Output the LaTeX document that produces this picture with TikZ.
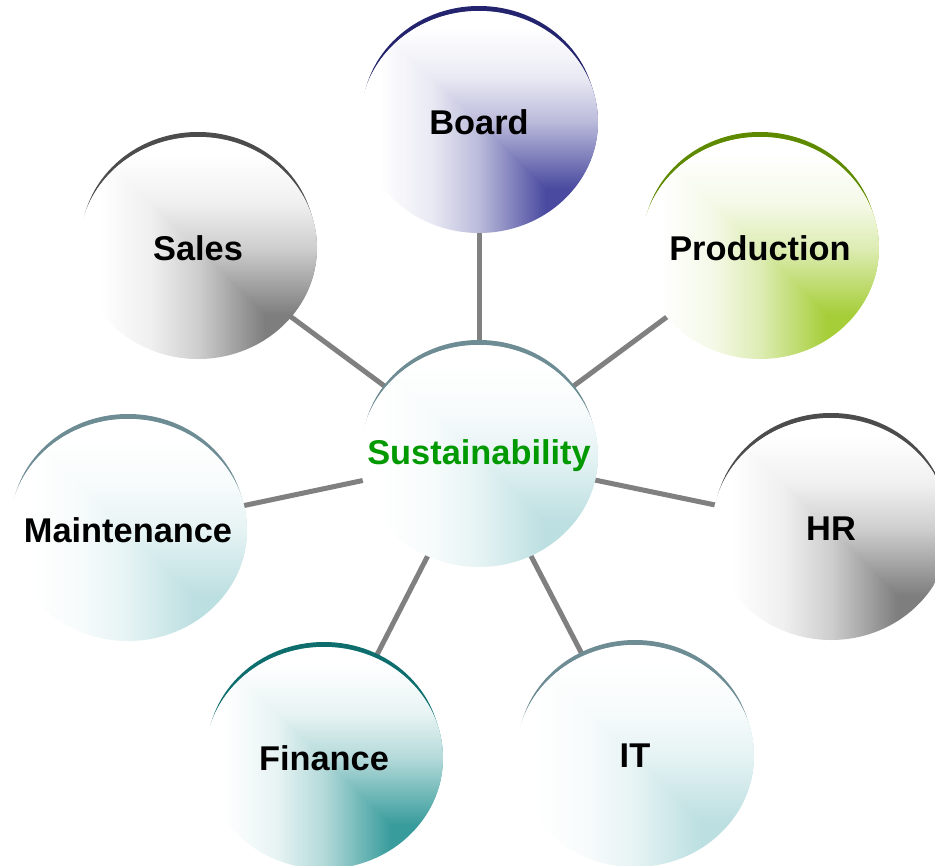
\documentclass[tikz,border=0pt]{standalone}
\usepackage{fontspec}
\setmainfont{Liberation Sans}
\usetikzlibrary{shapes.geometric,backgrounds}
\definecolor{cBoard}{HTML}{4A4AA0}
\definecolor{aBoard}{HTML}{24246E}
\definecolor{cProd}{HTML}{A6CE39}
\definecolor{aProd}{HTML}{5E8A00}
\definecolor{cGray}{HTML}{7E7E7E}
\definecolor{aGray}{HTML}{4C4C4C}
\definecolor{cLight}{HTML}{BCDFE1}
\definecolor{aLight}{HTML}{6E8C94}
\definecolor{cFin}{HTML}{399C9C}
\definecolor{aFin}{HTML}{0E6E6E}
\definecolor{lineGray}{HTML}{808080}
\definecolor{susGreen}{HTML}{009A00}
\newcommand\mkshade[2]{%
  \pgfdeclarehorizontalshading{h#1}{100bp}{color(0bp)=(white); color(29bp)=(white); color(40bp)=(#2!12!white); color(50bp)=(#2!38!white); color(64bp)=(#2); color(100bp)=(#2)}%
  \pgfdeclareverticalshading{v#1}{100bp}{color(0bp)=(#2); color(35bp)=(#2); color(50bp)=(#2!38!white); color(60bp)=(#2!12!white); color(71bp)=(white); color(100bp)=(white)}}
\mkshade{Board}{cBoard}
\mkshade{Prod}{cProd}
\mkshade{Gray}{cGray}
\mkshade{Light}{cLight}
\mkshade{Fin}{cFin}
\tikzset{
  bub/.style={ellipse, minimum width=238bp, minimum height=222bp, inner sep=0pt,
    font=\fontsize{34.5}{40}\selectfont\bfseries, text=black},
  conn/.style={draw=lineGray, line width=5bp}
}
\newcommand\mybub[7]{%
  \fill[#5] (#2,#3-7.3) ellipse[x radius=116.7bp, y radius=108.7bp];
  \node[bub, shade, shading=h#4, #7,
    path picture={\shade[shading=v#4, blend mode=lighten]
      (path picture bounding box.south west) rectangle (path picture bounding box.north east);}]
    (#1) at (#2,#3) {\makebox[0pt]{#6}};}
\begin{document}
\begin{tikzpicture}[x=1bp,y=-1bp]
\begin{pgfonlayer}{background}
\fill[white] (0,0) rectangle (935,866);
\end{pgfonlayer}
\useasboundingbox (0,0) rectangle (935,866);
\mybub{sus}{479}{456}{Light}{aLight}{Sustainability}{text=susGreen}
\mybub{board}{479}{122}{Board}{aBoard}{Board}{}
\mybub{prod}{760}{248}{Prod}{aProd}{Production}{}
\mybub{sales}{198}{248}{Gray}{aGray}{Sales}{}
\mybub{maint}{128}{530}{Light}{aLight}{Maintenance}{}
\mybub{hr}{831}{529}{Gray}{aGray}{HR}{}
\mybub{fin}{324}{758}{Fin}{aFin}{Finance}{}
\mybub{it}{635}{756}{Light}{aLight}{IT}{}
\begin{pgfonlayer}{background}
\foreach \t in {board,prod,sales,maint,hr,fin,it}
  \draw[conn] (sus.center) -- (\t.center);
\end{pgfonlayer}
\end{tikzpicture}
\end{document}
